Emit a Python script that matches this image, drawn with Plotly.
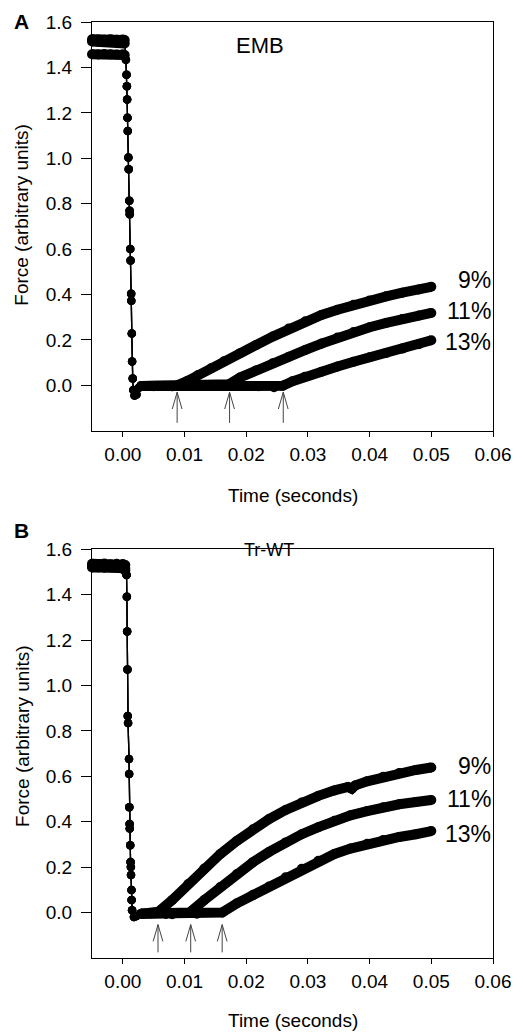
import plotly.graph_objects as go

# ---------------- Panel A : EMB ----------------
A_pre_t = [-0.005, -0.004, -0.003, -0.002, -0.001, 0.0, 0.0003]
A_pre_9 = [1.524, 1.523, 1.522, 1.524, 1.522, 1.523, 1.521]
A_pre_11 = [1.514, 1.513, 1.515, 1.514, 1.512, 1.514, 1.505]
A_pre_13 = [1.458, 1.457, 1.459, 1.458, 1.457, 1.458, 1.455]

A_drop_t = [0.0005, 0.0006, 0.00065, 0.0007, 0.00075, 0.0008, 0.0009, 0.00095,
            0.00105, 0.0011, 0.00112, 0.0012, 0.00125, 0.00135, 0.00137, 0.00145,
            0.0015, 0.0016, 0.0017, 0.0019, 0.0022, 0.0026]
A_drop_f = [1.434, 1.368, 1.317, 1.259, 1.178, 1.120, 1.003, 0.952,
            0.813, 0.769, 0.754, 0.601, 0.550, 0.404, 0.373, 0.228,
            0.105, 0.030, -0.020, -0.045, -0.040, -0.010]

A9_t = [0.003, 0.005, 0.007, 0.0088, 0.0105, 0.0122, 0.0143, 0.0164, 0.019, 0.0216,
        0.0243, 0.0269, 0.0296, 0.0322, 0.0348, 0.0374, 0.040, 0.0427, 0.0453, 0.048, 0.050]
A9_f = [-0.003, -0.004, -0.003, 0.0, 0.020, 0.046, 0.075, 0.106, 0.142, 0.178,
        0.215, 0.250, 0.282, 0.310, 0.333, 0.355, 0.374, 0.392, 0.408, 0.422, 0.434]

A11_t = [0.003, 0.008, 0.012, 0.0155, 0.0172, 0.019, 0.0216, 0.0243, 0.0269, 0.0296,
         0.0322, 0.0348, 0.0374, 0.040, 0.0427, 0.0453, 0.048, 0.050]
A11_f = [-0.003, -0.004, -0.002, 0.0, 0.005, 0.035, 0.067, 0.097, 0.126, 0.156,
         0.184, 0.211, 0.235, 0.256, 0.275, 0.292, 0.308, 0.319]

A13_t = [0.003, 0.008, 0.013, 0.018, 0.022, 0.0245, 0.0259, 0.0275, 0.0295, 0.0322,
         0.0348, 0.0374, 0.040, 0.0427, 0.0453, 0.048, 0.050]
A13_f = [-0.003, -0.004, -0.003, -0.002, -0.004, -0.008, -0.002, 0.018, 0.038, 0.060,
         0.083, 0.104, 0.124, 0.143, 0.162, 0.181, 0.199]

A_arrow_t = [0.0088, 0.0173, 0.0260]
A_arrow_tail = -0.165
A_arrow_head = -0.030

# ---------------- Panel B : Tr-WT ----------------
B_pre_t = [-0.005, -0.004, -0.003, -0.002, -0.001, 0.0, 0.0004]
B_pre_9 = [1.536, 1.535, 1.537, 1.534, 1.536, 1.535, 1.530]
B_pre_11 = [1.526, 1.525, 1.527, 1.524, 1.526, 1.525, 1.515]
B_pre_13 = [1.519, 1.520, 1.518, 1.520, 1.519, 1.518, 1.505]

B_drop_t = [0.0006, 0.00065, 0.0007, 0.00075, 0.0008, 0.00085, 0.0010, 0.00102,
            0.00105, 0.0011, 0.00112, 0.0012, 0.00125, 0.0013, 0.00132, 0.0014,
            0.00142, 0.0015, 0.0018, 0.0022]
B_drop_f = [1.486, 1.391, 1.238, 1.070, 0.865, 0.835, 0.676, 0.610,
            0.464, 0.390, 0.370, 0.296, 0.223, 0.201, 0.165, 0.099,
            0.055, 0.010, -0.020, -0.015]

B9_t = [0.003, 0.0045, 0.0058, 0.0080, 0.0106, 0.0132, 0.0158, 0.0185, 0.0211, 0.0237,
        0.0264, 0.0290, 0.0317, 0.0343, 0.0365, 0.0371, 0.0377, 0.0396, 0.0422, 0.0448,
        0.0475, 0.050]
B9_f = [-0.005, -0.004, 0.004, 0.055, 0.126, 0.194, 0.258, 0.316, 0.367, 0.412,
        0.452, 0.485, 0.514, 0.538, 0.553, 0.545, 0.560, 0.578, 0.598, 0.614,
        0.628, 0.639]

B11_t = [0.003, 0.007, 0.0108, 0.0132, 0.0158, 0.0185, 0.0211, 0.0237, 0.0264, 0.0290,
         0.0317, 0.0343, 0.0369, 0.0396, 0.0422, 0.0448, 0.0475, 0.050]
B11_f = [-0.005, -0.006, 0.0, 0.055, 0.113, 0.170, 0.222, 0.267, 0.309, 0.345,
         0.376, 0.404, 0.428, 0.447, 0.464, 0.477, 0.487, 0.496]

B13_t = [0.003, 0.008, 0.012, 0.0161, 0.0185, 0.0211, 0.0237, 0.0264, 0.0290, 0.0317,
         0.0343, 0.0369, 0.0396, 0.0422, 0.0448, 0.0475, 0.050]
B13_f = [-0.005, -0.007, -0.005, 0.0, 0.041, 0.078, 0.115, 0.155, 0.193, 0.228,
         0.258, 0.282, 0.303, 0.319, 0.333, 0.345, 0.359]

B_arrow_t = [0.0057, 0.0110, 0.0161]
B_arrow_tail = -0.175
B_arrow_head = -0.053

series_labels = ["9%", "11%", "13%"]
x_ticks = [0.00, 0.01, 0.02, 0.03, 0.04, 0.05, 0.06]
y_ticks = [0.0, 0.2, 0.4, 0.6, 0.8, 1.0, 1.2, 1.4, 1.6]

# ---------------- styling / geometry constants ----------------
FONT = "Arial, 'Liberation Sans', sans-serif"
W, H = 523, 1032
ML, MR, MT, MB = 92, 20, 17, 74
PW = W - ML - MR
PH = H - MT - MB
TOP_DOM = [(958 - 428) / PH, 1.0]
BOT_DOM = [0.0, (958 - 547) / PH]


def px2x(px):
    return (px - ML) / PW


def px2y(py):
    return (H - MB - py) / PH


fig = go.Figure()


def add_panel(xa, ya, pre_t, pres, drop_t, drop_f, posts, arrow_t, tail, head):
    for pre_f, (pt, pf) in zip(pres, posts):
        # thin connecting line with individual sample markers
        fig.add_trace(go.Scatter(
            x=pre_t + drop_t + pt, y=pre_f + drop_f + pf, mode="lines+markers",
            line=dict(color="black", width=1.3),
            marker=dict(color="black", size=8.5),
            xaxis=xa, yaxis=ya, showlegend=False, cliponaxis=False, hoverinfo="skip"))
        # dense sampled segments appear as a continuous thick band
        fig.add_trace(go.Scatter(
            x=pre_t + [None] + pt, y=pre_f + [None] + pf, mode="lines+markers",
            line=dict(color="black", width=10),
            marker=dict(color="black", size=10),
            xaxis=xa, yaxis=ya, showlegend=False, cliponaxis=False, hoverinfo="skip"))
    # arrows marking onset of force redevelopment
    dx, dy = 0.00079, 0.074
    ax, ay = [], []
    for t in arrow_t:
        ax += [t, t, None, t - dx, t, t + dx, None]
        ay += [tail, head, None, head - dy, head, head - dy, None]
    fig.add_trace(go.Scatter(x=ax, y=ay, mode="lines",
                             line=dict(color="#444444", width=1),
                             xaxis=xa, yaxis=ya, showlegend=False, hoverinfo="skip"))


add_panel("x", "y", A_pre_t, [A_pre_9, A_pre_11, A_pre_13], A_drop_t, A_drop_f,
          [(A9_t, A9_f), (A11_t, A11_f), (A13_t, A13_f)],
          A_arrow_t, A_arrow_tail, A_arrow_head)
add_panel("x2", "y2", B_pre_t, [B_pre_9, B_pre_11, B_pre_13], B_drop_t, B_drop_f,
          [(B9_t, B9_f), (B11_t, B11_f), (B13_t, B13_f)],
          B_arrow_t, B_arrow_tail, B_arrow_head)

TICKFONT = dict(family=FONT, size=19, color="black")
xcommon = dict(range=[-0.005, 0.06], tickvals=x_ticks, tickformat=".2f",
               ticks="outside", ticklen=5, tickwidth=1, tickcolor="black",
               showline=True, linecolor="black", linewidth=1, mirror=True,
               showgrid=False, zeroline=False, ticklabelstandoff=1, tickfont=TICKFONT)
ycommon = dict(range=[-0.2, 1.6], tickvals=y_ticks, tickformat=".1f",
               ticks="outside", ticklen=10, tickwidth=1, tickcolor="black",
               showline=True, linecolor="black", linewidth=1, mirror=True,
               showgrid=False, zeroline=False, ticklabelstandoff=5, tickfont=TICKFONT)

fig.update_layout(
    width=W, height=H, margin=dict(l=ML, r=MR, t=MT, b=MB),
    plot_bgcolor="white", paper_bgcolor="white", showlegend=False,
    xaxis=dict(domain=[0, 1], anchor="y", **xcommon),
    yaxis=dict(domain=TOP_DOM, anchor="x", **ycommon),
    xaxis2=dict(domain=[0, 1], anchor="y2", **xcommon),
    yaxis2=dict(domain=BOT_DOM, anchor="x2", **ycommon),
)


def note(text, px, py, size, bold=False, angle=0):
    return dict(text=f"<b>{text}</b>" if bold else text, x=px2x(px), y=px2y(py),
                xref="paper", yref="paper", xanchor="center", yanchor="middle",
                textangle=angle, showarrow=False,
                font=dict(family=FONT, size=size, color="black"))


ann = [
    note("A", 20, 16, 21, bold=True),
    note("B", 20, 528, 21, bold=True),
    note("EMB", 264, 41, 22),
    note("Tr-WT", 273, 548, 18),
]
for yc, xc in [(211, 493), (735, 1021)]:
    ann.append(note("Force (arbitrary units)", 20, yc, 19, angle=-90))
    ann.append(note("Time (seconds)", 298, xc, 19))
for lab, yv in zip(series_labels, [0.464, 0.327, 0.191]):
    ann.append(dict(text=lab, x=0.0600, y=yv, xref="x", yref="y", xanchor="right",
                    yanchor="middle", showarrow=False,
                    font=dict(family=FONT, size=23, color="black")))
for lab, yv in zip(series_labels, [0.647, 0.498, 0.344]):
    ann.append(dict(text=lab, x=0.0600, y=yv, xref="x2", yref="y2", xanchor="right",
                    yanchor="middle", showarrow=False,
                    font=dict(family=FONT, size=23, color="black")))
fig.update_layout(annotations=ann)

fig.write_html("out.html", config={"displayModeBar": False},
               post_script="document.body.style.margin='0';")
